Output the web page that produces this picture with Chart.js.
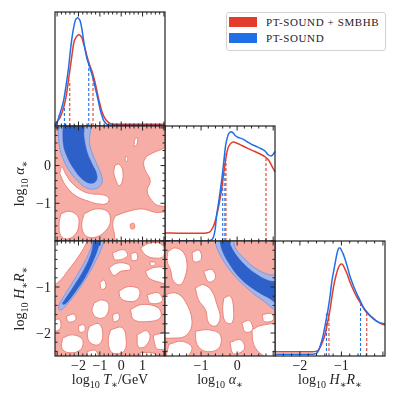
<!DOCTYPE html>
<html>
<head>
<meta charset="utf-8">
<script src="https://cdn.jsdelivr.net/npm/chart.js@4.4.1/dist/chart.umd.min.js"></script>
<style>
  body { margin: 0; background: #fff; }
  #wrap { position: relative; width: 398px; height: 400px; overflow: hidden; }
  #wrap canvas { position: absolute; left: 0; top: 0; }
  .legend { position: absolute; left: 226px; top: 12px; width: 158px; height: 37px; border: 1px solid #d2d2d2; border-radius: 3px; background: #fff; z-index: 5; font-family: "Liberation Serif", serif; font-size: 11px; letter-spacing: 0.6px; color: #222; }
  .legend .patch { position: absolute; left: 2px; width: 28px; height: 10px; }
  .legend .label { position: absolute; left: 39px; line-height: 10px; white-space: nowrap; }
</style>
</head>
<body>
<div id="wrap"><div class="legend" id="legend"></div></div>
<script>
// series
const seriesNames = ["PT-SOUND + SMBHB", "PT-SOUND"];
const seriesColors = ["#e33b2c", "#1f6fe6"];

// tick labels
const tTicks = [-2, -1, 0, 1];
const aTicks = [-1, 0];
const hTicks = [-2, -1];
const aYTicks = [0, -1];
const hYTicks = [-1, -2];

// axis ranges
const tRange = [-3.1, 2.05];
const aRange = [-2, 1.05];
const hRange = [-2.6, 0.05];
const hYRange = [-2.5, 0];

// 1D marginals, [value, density]
const tRed = [[-3.1,0.02],[-3.0,0.04],[-2.85,0.08],[-2.7,0.16],[-2.61,0.23],[-2.53,0.32],[-2.45,0.43],[-2.38,0.52],[-2.30,0.63],[-2.22,0.73],[-2.14,0.77],[-2.07,0.79],[-1.97,0.80],[-1.90,0.79],[-1.83,0.77],[-1.76,0.72],[-1.68,0.67],[-1.60,0.61],[-1.52,0.56],[-1.45,0.52],[-1.37,0.48],[-1.29,0.43],[-1.21,0.37],[-1.13,0.30],[-1.06,0.24],[-0.98,0.18],[-0.90,0.125],[-0.80,0.08],[-0.70,0.05],[-0.58,0.03],[-0.43,0.018],[0,0.016],[2.05,0.016]];
const tBlue = [[-3.1,0.005],[-3.0,0.03],[-2.92,0.08],[-2.8,0.15],[-2.69,0.23],[-2.57,0.37],[-2.46,0.52],[-2.38,0.66],[-2.30,0.78],[-2.22,0.87],[-2.14,0.93],[-2.04,0.95],[-1.96,0.935],[-1.91,0.915],[-1.84,0.85],[-1.76,0.75],[-1.68,0.66],[-1.60,0.59],[-1.48,0.52],[-1.38,0.46],[-1.29,0.40],[-1.21,0.33],[-1.13,0.27],[-1.05,0.20],[-0.98,0.14],[-0.90,0.09],[-0.83,0.05],[-0.75,0.03],[-0.67,0.015],[-0.5,0.008],[0,0.005],[2.05,0.005]];
const aRed = [[-2,0.07],[-1.5,0.067],[-1.0,0.067],[-0.85,0.07],[-0.75,0.08],[-0.67,0.12],[-0.61,0.17],[-0.54,0.26],[-0.47,0.37],[-0.42,0.47],[-0.38,0.57],[-0.33,0.68],[-0.29,0.76],[-0.25,0.81],[-0.20,0.84],[-0.11,0.86],[0.0,0.85],[0.13,0.83],[0.27,0.81],[0.40,0.79],[0.55,0.77],[0.68,0.75],[0.76,0.735],[0.82,0.72],[0.88,0.70],[0.95,0.66],[1.0,0.63],[1.05,0.60]];
const aBlue = [[-2,0],[-0.89,0],[-0.75,0.005],[-0.66,0.03],[-0.61,0.10],[-0.57,0.22],[-0.52,0.32],[-0.47,0.43],[-0.42,0.55],[-0.38,0.66],[-0.35,0.75],[-0.32,0.83],[-0.28,0.89],[-0.24,0.93],[-0.20,0.945],[-0.17,0.95],[-0.11,0.94],[-0.06,0.92],[0.03,0.90],[0.13,0.89],[0.27,0.865],[0.40,0.84],[0.55,0.82],[0.68,0.80],[0.78,0.78],[0.86,0.75],[0.95,0.74],[1.00,0.755],[1.05,0.78]];
const hRed = [[-2.6,0.037],[-1.7,0.037],[-1.62,0.04],[-1.56,0.05],[-1.48,0.10],[-1.40,0.18],[-1.34,0.28],[-1.28,0.39],[-1.23,0.51],[-1.18,0.62],[-1.13,0.70],[-1.08,0.76],[-1.04,0.79],[-1.00,0.80],[-0.96,0.79],[-0.92,0.76],[-0.86,0.71],[-0.80,0.65],[-0.72,0.58],[-0.64,0.52],[-0.54,0.46],[-0.44,0.40],[-0.34,0.36],[-0.24,0.33],[-0.14,0.30],[-0.04,0.28],[0.05,0.27]];
const hBlue = [[-2.6,0.015],[-1.7,0.015],[-1.62,0.02],[-1.56,0.04],[-1.50,0.10],[-1.44,0.18],[-1.38,0.29],[-1.32,0.41],[-1.27,0.53],[-1.23,0.65],[-1.18,0.75],[-1.14,0.83],[-1.10,0.90],[-1.06,0.94],[-1.03,0.94],[-1.00,0.92],[-0.96,0.89],[-0.92,0.85],[-0.86,0.78],[-0.80,0.70],[-0.72,0.62],[-0.64,0.55],[-0.56,0.49],[-0.48,0.43],[-0.38,0.38],[-0.28,0.34],[-0.18,0.31],[-0.08,0.29],[0.05,0.28]];

// credible bounds, [value, density at the curve]
const tRedBounds = [[-2.41,0.40],[-1.32,0.44]];
const tBlueBounds = [[-2.66,0.22],[-1.52,0.55]];
const aRedBounds = [[-0.31,0.70],[0.80,0.72]];
const aBlueBounds = [[-0.40,0.62],[-0.34,0.78]];
const hRedBounds = [[-1.30,0.39],[-0.39,0.38]];
const hBlueBounds = [[-1.36,0.37],[-0.54,0.45]];

// 2D contours: T vs alpha
const taBlue95 = [[-2.94,1.2],[-2.91,0.57],[-2.75,0.22],[-2.44,-0.13],[-2.05,-0.40],[-1.67,-0.58],[-1.28,-0.62],[-0.97,-0.53],[-0.89,-0.36],[-1.04,-0.09],[-1.28,0.22],[-1.48,0.57],[-1.54,1.2]];
const taBlue68 = [[-2.72,1.2],[-2.71,0.57],[-2.52,0.22],[-2.21,-0.09],[-1.82,-0.36],[-1.43,-0.47],[-1.17,-0.40],[-1.15,-0.22],[-1.36,0.04],[-1.59,0.35],[-1.74,0.75],[-1.82,1.2]];
const taRedHoles = [
  [[-2.88,-0.22],[-2.60,-0.53],[-2.13,-0.80],[-1.51,-0.95],[-1.04,-1.02],[-0.66,-1.00],[-0.58,-0.86],[-0.89,-0.77],[-1.36,-0.75],[-1.82,-0.67],[-2.29,-0.47],[-2.60,-0.22],[-2.78,-0.03]],
  [[-2.83,-1.28],[-2.44,-1.21],[-2.05,-1.33],[-1.98,-1.55],[-2.13,-1.81],[-2.52,-1.95],[-2.83,-1.86],[-2.91,-1.55]],
  [[-1.74,-1.28],[-1.20,-1.15],[-0.66,-1.21],[-0.50,-1.46],[-0.73,-1.73],[-1.20,-1.90],[-1.67,-1.86],[-1.85,-1.59]],
  [[1.21,0.26],[1.75,0.40],[2.2,0.44],[2.2,-1.02],[1.75,-1.06],[1.44,-0.93],[1.21,-0.67],[1.36,-0.40],[1.13,-0.13],[1.05,0.09]],
  [[-0.27,-1.33],[0.35,-1.21],[0.98,-1.15],[1.60,-1.24],[2.2,-1.28],[2.2,-2.1],[-0.11,-2.1],[-0.35,-1.73],[-0.39,-1.50]],
  [[-0.30,0.0],[-0.11,0.04],[0.07,-0.13],[0.04,-0.44],[-0.11,-0.53],[-0.27,-0.36],[-0.35,-0.18]],
  [[0.59,0.50],[0.65,0.71],[0.76,0.73],[0.73,0.56]],
  [[0.18,0.13],[0.21,0.24],[0.29,0.22],[0.28,0.11]]
];
const taRedIslands = [[[0.43,-1.55],[0.59,-1.53],[0.62,-1.66],[0.45,-1.67]]];

// 2D contours: T vs H R
const thBlue95 = [[-2.94,-1.42],[-2.83,-1.31],[-2.29,-0.91],[-1.74,-0.48],[-1.39,-0.12],[-1.23,0.14],[-0.73,0.14],[-0.92,-0.15],[-1.17,-0.41],[-1.54,-0.73],[-2.05,-1.09],[-2.52,-1.37],[-2.78,-1.49],[-2.91,-1.49]];
const thBlue68 = [[-2.75,-1.35],[-2.26,-1.01],[-1.74,-0.62],[-1.40,-0.26],[-1.20,0.14],[-0.92,0.14],[-1.08,-0.15],[-1.32,-0.44],[-1.67,-0.77],[-2.13,-1.09],[-2.57,-1.35],[-2.72,-1.38]];
const thRedHoles = [
  [[-3.3,0.14],[-1.51,0.14],[-1.67,-0.08],[-2.05,-0.37],[-2.52,-0.66],[-2.91,-0.88],[-3.3,-0.95]],
  [[-0.58,-0.59],[-0.19,-0.48],[0.35,-0.51],[0.43,-0.62],[-0.03,-0.66],[-0.34,-0.75]],
  [[0.90,-0.15],[1.36,-0.04],[1.91,-0.08],[1.99,-0.33],[1.52,-0.37],[1.13,-0.30]],
  [[1.13,-0.66],[1.60,-0.57],[2.2,-0.62],[2.2,-0.91],[1.67,-0.88],[1.29,-0.80]],
  [[-0.11,-1.09],[0.35,-0.99],[0.85,-1.06],[0.74,-1.28],[0.28,-1.31],[-0.03,-1.24]],
  [[-1.28,-1.35],[-0.89,-1.28],[-0.58,-1.38],[-0.73,-1.64],[-1.12,-1.67],[-1.36,-1.53]],
  [[0.43,-1.49],[0.98,-1.38],[1.75,-1.46],[1.83,-1.67],[1.29,-1.75],[0.59,-1.71]],
  [[-1.48,-1.85],[-1.04,-1.80],[-0.86,-2.04],[-1.04,-2.25],[-1.43,-2.22],[-1.59,-2.04]],
  [[-0.50,-1.93],[0.04,-1.88],[0.23,-2.11],[0.12,-2.40],[-0.42,-2.43],[-0.61,-2.18]],
  [[0.74,-2.04],[1.2,-1.95],[1.35,-2.1],[1.1,-2.3],[0.8,-2.3]],
  [[1.5,-2.05],[2.2,-2.0],[2.2,-2.3],[1.7,-2.35],[1.55,-2.2]],
  [[0.9,-2.42],[1.6,-2.45],[1.7,-2.6],[0.9,-2.6]],
  [[-2.75,-2.11],[-2.29,-2.04],[-1.82,-2.14],[-1.90,-2.36],[-2.44,-2.43],[-2.78,-2.33]],
  [[-2.57,-1.64],[-2.21,-1.59],[-2.13,-1.71],[-2.47,-1.76]],
  [[-0.42,-0.26],[0.12,-0.19],[0.28,-0.33],[-0.27,-0.41]],
  [[1.21,-1.17],[1.75,-1.13],[1.91,-1.31],[1.36,-1.35]],
  [[-1.0,-0.9],[-0.8,-0.85],[-0.72,-1.0],[-0.92,-1.05]],
  [[0.45,-0.28],[0.7,-0.25],[0.75,-0.4],[0.5,-0.42]],
  [[1.35,-0.45],[1.6,-0.47],[1.55,-0.53],[1.38,-0.53]],
  [[-0.4,-1.6],[-0.15,-1.57],[-0.1,-1.7],[-0.35,-1.75]],
  [[-1.6,-2.4],[-1.2,-2.38],[-1.1,-2.55],[-1.55,-2.6]],
  [[-3.2,-1.75],[-2.9,-1.7],[-2.85,-1.9],[-3.2,-1.95]],
  [[2.0,-1.05],[2.2,-1.0],[2.2,-1.3],[2.0,-1.25]],
  [[-2.0,-1.85],[-1.75,-1.82],[-1.7,-1.95],[-1.95,-1.98]]
];

// 2D contours: alpha vs H R
const ahBlue95 = [[-0.65,0.14],[-0.56,-0.15],[-0.37,-0.44],[-0.10,-0.73],[0.27,-1.02],[0.69,-1.28],[1.24,-1.54],[1.24,-0.77],[0.87,-0.73],[0.50,-0.59],[0.18,-0.37],[-0.05,-0.15],[-0.16,0.14]];
const ahBlue68 = [[-0.51,0.14],[-0.42,-0.19],[-0.23,-0.48],[0.04,-0.77],[0.41,-1.02],[0.83,-1.22],[1.24,-1.38],[1.24,-0.93],[0.87,-0.86],[0.55,-0.73],[0.23,-0.53],[-0.03,-0.30],[-0.23,-0.01],[-0.28,0.14]];
const ahRedHoles = [
  [[-1.92,-0.23],[-1.71,-0.15],[-1.48,-0.26],[-1.39,-0.51],[-1.44,-0.77],[-1.57,-0.95],[-1.76,-0.88],[-1.85,-0.62],[-1.94,-0.44]],
  [[-2.1,-1.20],[-1.71,-1.13],[-1.44,-1.31],[-1.25,-1.75],[-1.39,-2.04],[-1.71,-2.11],[-2.1,-2.04]],
  [[-1.16,-1.02],[-0.93,-0.95],[-0.70,-1.09],[-0.56,-1.38],[-0.47,-1.67],[-0.60,-1.85],[-0.79,-1.78],[-0.88,-1.49],[-1.07,-1.28]],
  [[-0.93,-0.66],[-0.70,-0.62],[-0.60,-0.80],[-0.79,-0.89]],
  [[-0.37,-1.24],[-0.19,-1.20],[-0.10,-1.46],[-0.14,-1.78],[-0.33,-1.75],[-0.40,-1.49]],
  [[0.13,-1.78],[0.34,-1.73],[0.43,-1.93],[0.23,-1.98]],
  [[0.41,-1.93],[0.69,-1.83],[1.15,-1.85],[1.15,-2.6],[0.69,-2.47],[0.46,-2.25]],
  [[-1.16,-1.96],[-0.79,-1.93],[-0.47,-2.04],[-0.51,-2.33],[-0.88,-2.40],[-1.11,-2.25]],
  [[-1.90,-2.25],[-1.53,-2.18],[-1.25,-2.33],[-1.53,-2.6],[-1.94,-2.6]],
  [[-0.2,-2.2],[0.1,-2.15],[0.2,-2.35],[-0.1,-2.45]],
  [[-1.25,-0.25],[-1.05,-0.2],[-1.0,-0.4],[-1.2,-0.45]],
  [[0.7,-1.6],[0.95,-1.58],[1.0,-1.72],[0.75,-1.75]]
];

// axis titles: [text, kind] n = upright, i = italic, s = subscript
const tTitle = [["log","n"],["10","s"],[" ","n"],["T","i"],["∗","s"],["/GeV","n"]];
const aTitle = [["log","n"],["10","s"],[" ","n"],["α","i"],["∗","s"]];
const hTitle = [["log","n"],["10","s"],[" ","n"],["H","i"],["∗","s"],["R","i"],["∗","s"]];

// panel edges in the page
const cols = [[55, 165], [165, 275], [275, 385]];
const rows = [[12, 126], [126, 241], [241, 356]];

const SERIF = '"Liberation Serif", "DejaVu Serif", serif';
const INK = "#222";
const redFill = "#f5ada6", redEdge = "#ee8278";
const blueLight = "#a4b5e8", blueEdge = "#7e9be4", blueDark = "#2d60c9";

const pts = arr => arr.map(([x, y]) => ({x, y}));

function area(poly, fill, edge, bw) {
  return {
    data: pts(poly.concat([poly[0]])), showLine: true, fill: "shape",
    backgroundColor: fill, borderColor: edge, borderWidth: bw,
    tension: 0.4, pointRadius: 0, clip: 0
  };
}
function curve(arr, color) {
  return {
    data: pts(arr), showLine: true, fill: false, borderColor: color, borderWidth: 1.5,
    cubicInterpolationMode: "monotone", pointRadius: 0, clip: 1
  };
}
function bounds(arr, color) {
  return arr.map(([v, top]) => ({
    data: [{x: v, y: 0}, {x: v, y: top}], showLine: true, fill: false,
    borderColor: color, borderWidth: 1.1, borderDash: [3, 2], pointRadius: 0, clip: 0
  }));
}
function redBox(xr, yr) {
  return area([[xr[0] - 1, yr[0] - 1], [xr[1] + 1, yr[0] - 1], [xr[1] + 1, yr[1] + 1], [xr[0] - 1, yr[1] + 1]], redFill, redFill, 0);
}
function contourSets(b68, b95, holes, islands, xr, yr) {
  const ds = [area(b68, blueDark, blueDark, 0.5), area(b95, blueLight, blueEdge, 1)];
  islands.forEach(p => ds.push(area(p, redFill, redEdge, 1)));
  holes.forEach(p => ds.push(area(p, "#ffffff", redEdge, 1)));
  const box = redBox(xr, yr);
  box.tension = 0;
  ds.push(box);
  return ds;
}

function drawMath(ctx, runs, cx, baseY, size) {
  const parts = runs.map(([t, k]) => {
    const sub = k === "s";
    const font = (k === "i" ? "italic " : "") + (sub ? size * 0.72 : size) + "px " + SERIF;
    ctx.font = font;
    return {t, font, dy: sub ? size * 0.3 : 0, w: ctx.measureText(t).width};
  });
  const total = parts.reduce((s, p) => s + p.w, 0);
  let x = cx - total / 2;
  ctx.textAlign = "left";
  ctx.textBaseline = "alphabetic";
  parts.forEach(p => { ctx.font = p.font; ctx.fillText(p.t, x, baseY + p.dy); x += p.w; });
}
const fmt = v => (v < 0 ? "\u2212" + Math.abs(v) : String(v));

function frame(opt) {
  return {
    id: "frame",
    afterDraw(chart) {
      const {ctx, chartArea: a, scales} = chart;
      ctx.save();
      ctx.strokeStyle = INK;
      ctx.fillStyle = INK;
      ctx.lineWidth = 1;
      const tickSet = (scale, fn) => {
        for (let k = Math.ceil(scale.min * 5); k <= Math.floor(scale.max * 5); k++) {
          fn(scale.getPixelForValue(k / 5), k % 5 === 0 ? 4.5 : 2.5);
        }
      };
      ctx.beginPath();
      tickSet(scales.x, (p, len) => {
        ctx.moveTo(p, a.top); ctx.lineTo(p, a.top + len);
        ctx.moveTo(p, a.bottom); ctx.lineTo(p, a.bottom - len);
      });
      if (opt.yTicks) {
        tickSet(scales.y, (p, len) => {
          ctx.moveTo(a.left, p); ctx.lineTo(a.left + len, p);
          ctx.moveTo(a.right, p); ctx.lineTo(a.right - len, p);
        });
      }
      ctx.stroke();
      ctx.lineWidth = 1.2;
      ctx.strokeRect(a.left, a.top, a.right - a.left, a.bottom - a.top);

      ctx.font = "14px " + SERIF;
      if (opt.xLabels) {
        ctx.textAlign = "center";
        ctx.textBaseline = "alphabetic";
        opt.xLabels.forEach(v => ctx.fillText(fmt(v), scales.x.getPixelForValue(v), a.bottom + 14));
        drawMath(ctx, opt.xTitle, (a.left + a.right) / 2, a.bottom + 28, 14);
      }
      if (opt.yLabels) {
        ctx.font = "14px " + SERIF;
        ctx.textAlign = "right";
        ctx.textBaseline = "middle";
        opt.yLabels.forEach(v => ctx.fillText(fmt(v), a.left - 4, scales.y.getPixelForValue(v) + 1));
        ctx.save();
        ctx.translate(a.left - 31, (a.top + a.bottom) / 2);
        ctx.rotate(-Math.PI / 2);
        drawMath(ctx, opt.yTitle, 0, 0, 14);
        ctx.restore();
      }
      ctx.restore();
    }
  };
}

const wrap = document.getElementById("wrap");
function panel(col, row, xr, yr, datasets, opt) {
  const cv = document.createElement("canvas");
  cv.width = 398;
  cv.height = 400;
  wrap.insertBefore(cv, document.getElementById("legend"));
  return new Chart(cv, {
    type: "scatter",
    data: {datasets},
    options: {
      responsive: false,
      animation: false,
      events: [],
      layout: {padding: {left: col[0], right: 398 - col[1], top: row[0], bottom: 400 - row[1]}},
      plugins: {legend: {display: false}, tooltip: {enabled: false}},
      scales: {
        x: {type: "linear", display: false, min: xr[0], max: xr[1]},
        y: {type: "linear", display: false, min: yr[0], max: yr[1]}
      }
    },
    plugins: [frame(opt)]
  });
}

const [RED, BLUE] = seriesColors;
function marginal(blue, red, bBlue, bRed) {
  return [curve(blue, BLUE), curve(red, RED), ...bounds(bBlue, BLUE), ...bounds(bRed, RED)];
}

// diagonal
panel(cols[0], rows[0], tRange, [0, 1], marginal(tBlue, tRed, tBlueBounds, tRedBounds), {});
panel(cols[1], rows[1], aRange, [0, 1], marginal(aBlue, aRed, aBlueBounds, aRedBounds), {});
panel(cols[2], rows[2], hRange, [0, 1], marginal(hBlue, hRed, hBlueBounds, hRedBounds),
  {xLabels: hTicks, xTitle: hTitle});

// 2D panels
panel(cols[0], rows[1], tRange, aRange,
  contourSets(taBlue68, taBlue95, taRedHoles, taRedIslands, tRange, aRange),
  {yTicks: true, yLabels: aYTicks, yTitle: aTitle});
panel(cols[0], rows[2], tRange, hYRange,
  contourSets(thBlue68, thBlue95, thRedHoles, [], tRange, hYRange),
  {yTicks: true, yLabels: hYTicks, yTitle: hTitle, xLabels: tTicks, xTitle: tTitle});
panel(cols[1], rows[2], aRange, hYRange,
  contourSets(ahBlue68, ahBlue95, ahRedHoles, [], aRange, hYRange),
  {yTicks: true, xLabels: aTicks, xTitle: aTitle});

// legend
const legend = document.getElementById("legend");
seriesNames.forEach((name, i) => {
  const top = 4 + i * 16;
  legend.insertAdjacentHTML("beforeend",
    `<span class="patch" style="top:${top}px;background:${seriesColors[i]}"></span>` +
    `<span class="label" style="top:${top}px">${name}</span>`);
});
</script>
</body>
</html>
